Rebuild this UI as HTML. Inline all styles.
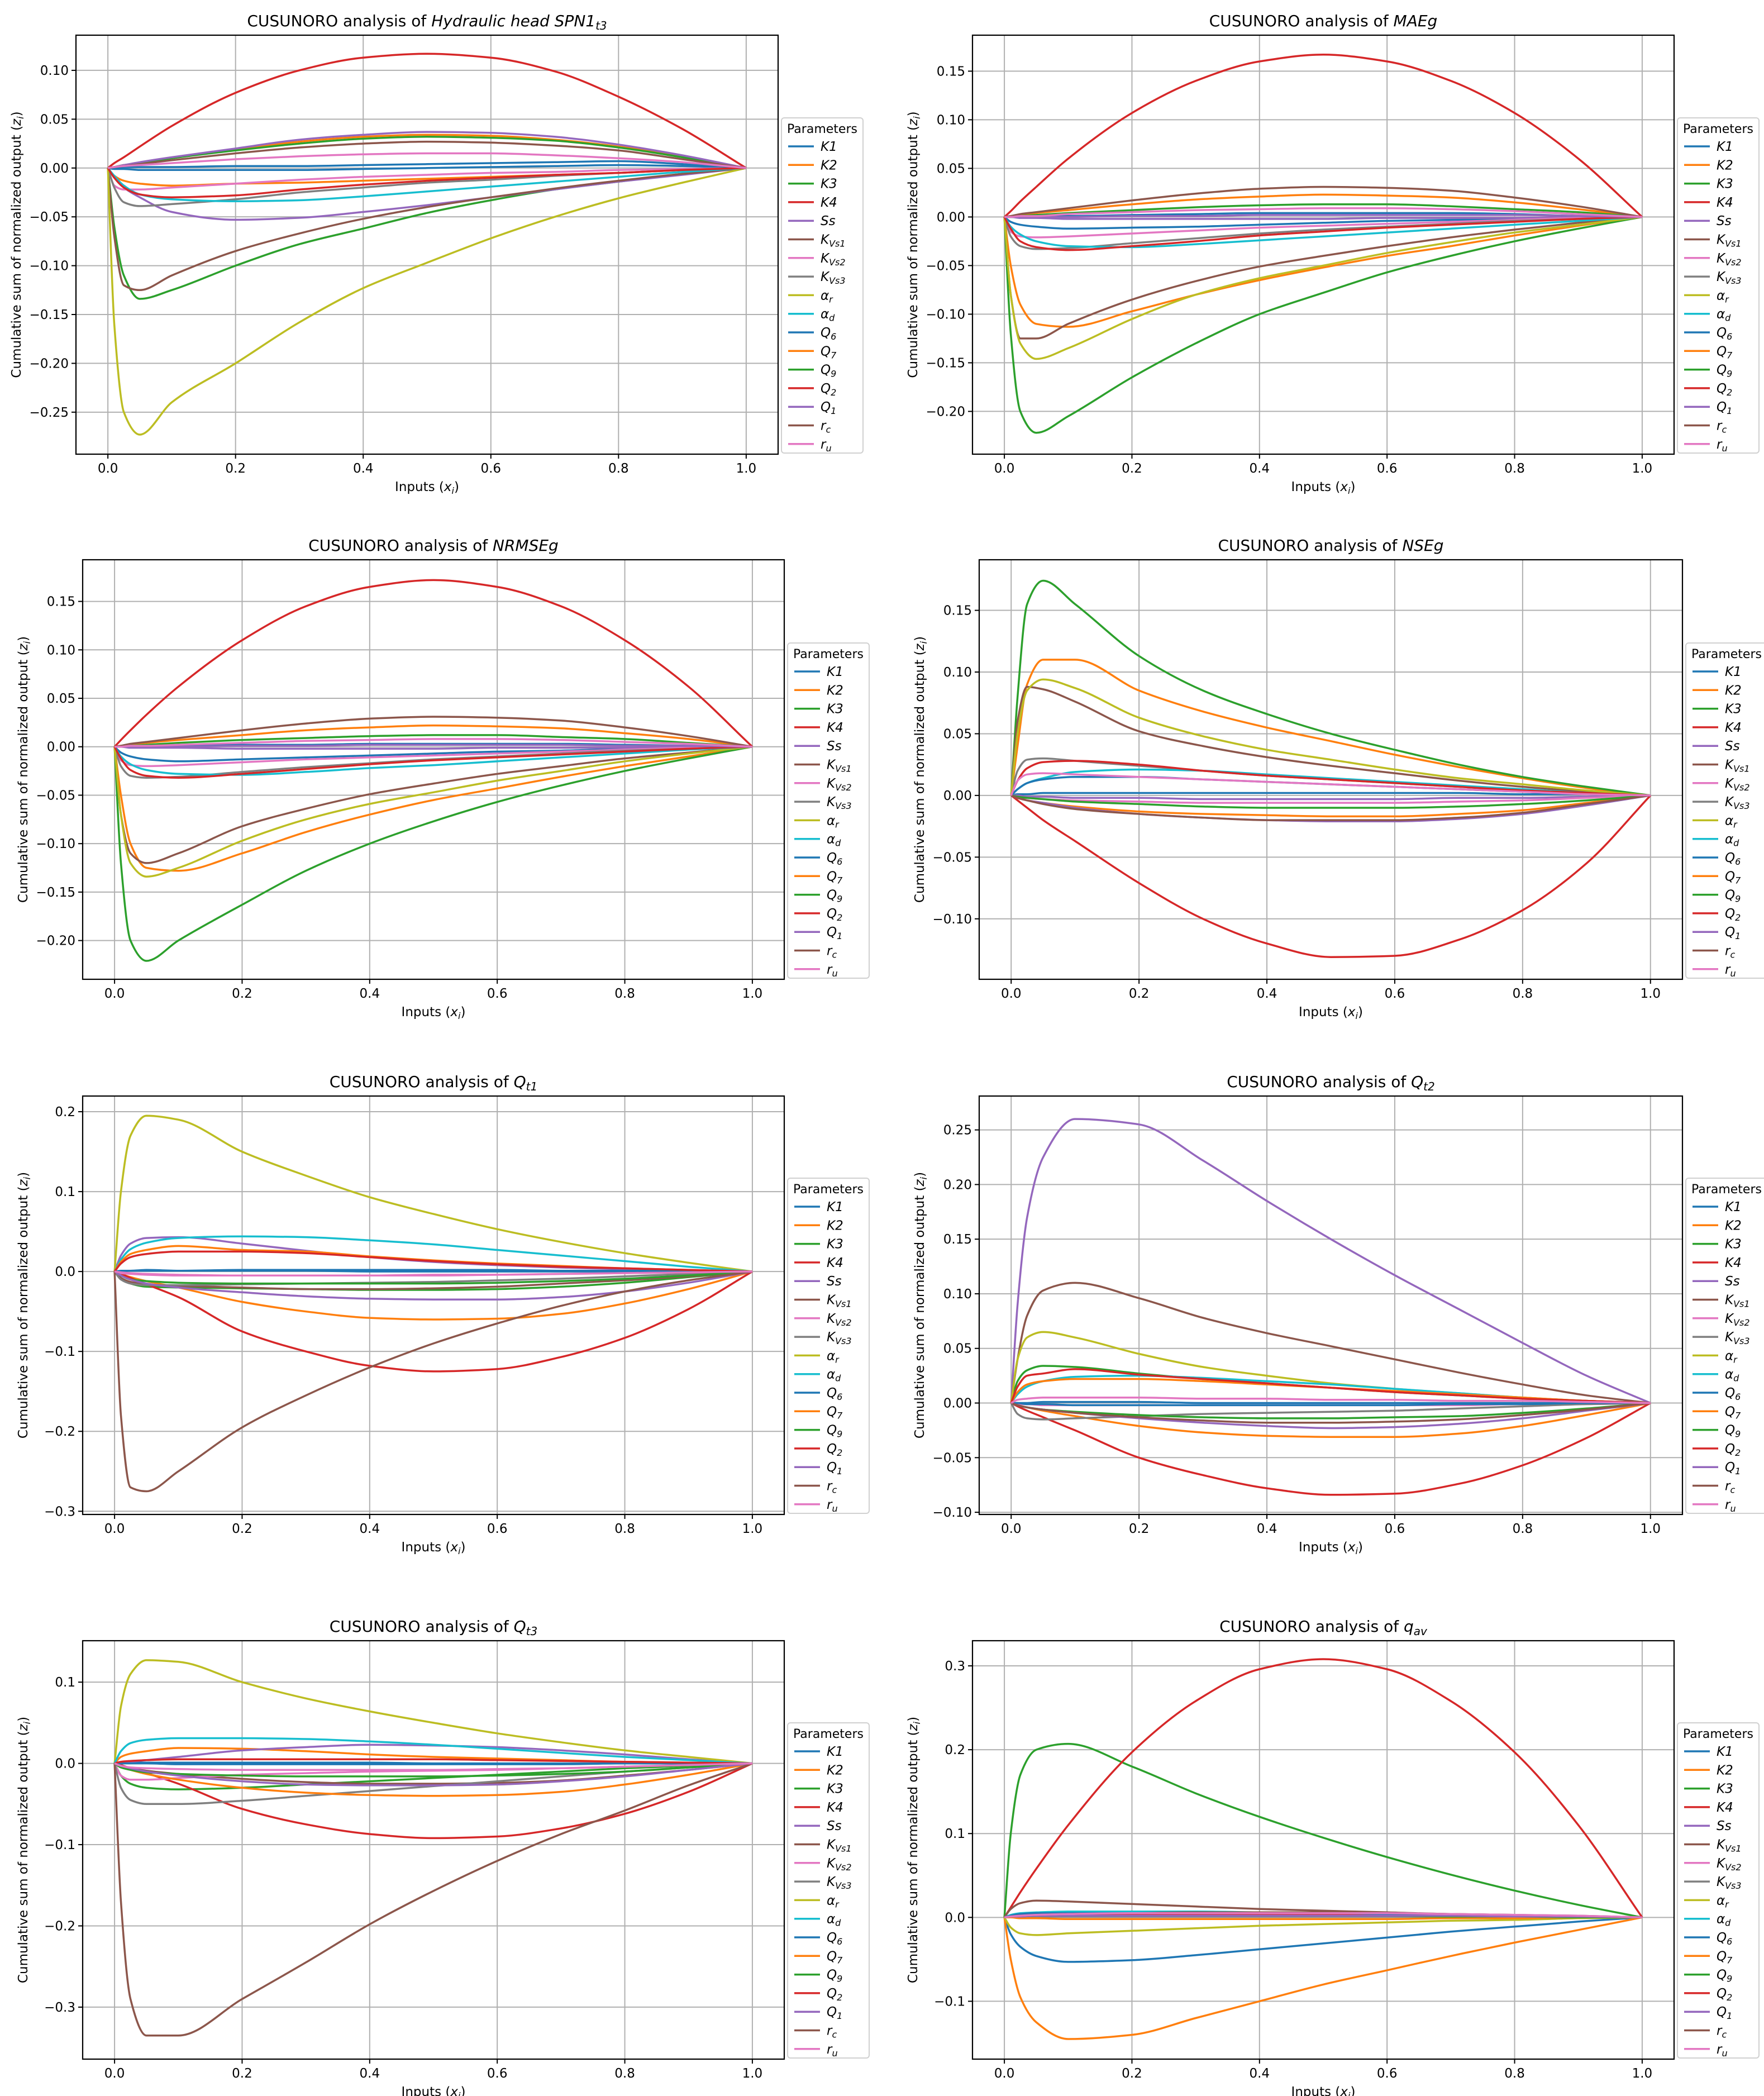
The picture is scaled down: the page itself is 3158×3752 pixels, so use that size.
<!DOCTYPE html>
<html><head><meta charset="utf-8"><title>CUSUNORO analyses</title>
<style>
html,body{margin:0;padding:0;background:#fff;}
svg{display:block;font-family:"DejaVu Sans","Liberation Sans",sans-serif;}
</style></head>
<body>
<svg id="fig" xmlns="http://www.w3.org/2000/svg" width="3158" height="3752" viewBox="0 0 3158 3752">
<rect x="0" y="0" width="3158" height="3752" fill="#fff"/>
</svg>
<script>
// ---------- shared data ----------
const X = [0,0.01,0.025,0.05,0.1,0.2,0.3,0.4,0.5,0.6,0.7,0.8,0.9,1];
const seriesNames = [["K1",""],["K2",""],["K3",""],["K4",""],["Ss",""],["K","Vs1"],["K","Vs2"],["K","Vs3"],["α","r"],["α","d"],["Q","6"],["Q","7"],["Q","9"],["Q","2"],["Q","1"],["r","c"],["r","u"]];
const seriesColors = ["#1f77b4","#ff7f0e","#2ca02c","#d62728","#9467bd","#8c564b","#e377c2","#7f7f7f","#bcbd22","#17becf","#1f77b4","#ff7f0e","#2ca02c","#d62728","#9467bd","#8c564b","#e377c2"];
const xTicks = [0,0.2,0.4,0.6,0.8,1.0];
const xTickLabels = ["0.0","0.2","0.4","0.6","0.8","1.0"];

// ---------- panel 1: Hydraulic head SPN1 t3 ----------
const hhTicks = [0.10,0.05,0,-0.05,-0.10,-0.15,-0.20,-0.25];
const hhTickLabels = ["0.10","0.05","0.00","−0.05","−0.10","−0.15","−0.20","−0.25"];
const hhValues = [
[0,-.001,-.001,-.002,-.002,-.002,-.002,-.001,0,.001,.002,.003,.002,0],
[0,-.008,-.013,-.016,-.018,-.016,-.015,-.013,-.011,-.009,-.007,-.005,-.002,0],
[0,-.06,-.11,-.134,-.125,-.1,-.078,-.062,-.046,-.033,-.022,-.014,-.006,0],
[0,.005,.011,.022,.043,.077,.1,.113,.117,.113,.099,.073,.04,0],
[0,-.01,-.02,-.03,-.045,-.053,-.051,-.045,-.038,-.03,-.022,-.014,-.007,0],
[0,-.07,-.12,-.125,-.11,-.085,-.067,-.052,-.04,-.03,-.021,-.013,-.006,0],
[0,-.018,-.022,-.022,-.02,-.016,-.012,-.009,-.007,-.005,-.004,-.002,-.001,0],
[0,-.02,-.035,-.039,-.037,-.032,-.025,-.02,-.015,-.012,-.008,-.005,-.002,0],
[0,-.16,-.25,-.273,-.24,-.2,-.158,-.123,-.097,-.072,-.05,-.031,-.015,0],
[0,-.008,-.018,-.027,-.032,-.034,-.033,-.029,-.024,-.019,-.014,-.009,-.004,0],
[0,0,.001,.001,.001,.002,.002,.003,.004,.005,.006,.007,.004,0],
[0,.001,.003,.005,.01,.019,.027,.032,.034,.033,.029,.022,.012,0],
[0,.001,.003,.005,.01,.018,.025,.03,.032,.031,.028,.021,.011,0],
[0,-.01,-.02,-.027,-.03,-.028,-.022,-.017,-.013,-.01,-.007,-.005,-.002,0],
[0,.001,.003,.006,.011,.02,.029,.034,.037,.036,.032,.024,.013,0],
[0,.001,.002,.004,.008,.015,.021,.025,.027,.026,.023,.018,.009,0],
[0,.001,.002,.003,.005,.009,.012,.014,.015,.015,.013,.01,.006,0]];

// ---------- panel 2: MAEg ----------
const maeTicks = [0.15,0.10,0.05,0,-0.05,-0.10,-0.15,-0.20];
const maeTickLabels = ["0.15","0.10","0.05","0.00","−0.05","−0.10","−0.15","−0.20"];
const maeValues = [
[0,-.005,-.008,-.01,-.012,-.011,-.01,-.008,-.006,-.004,-.003,-.002,-.001,0],
[0,-.05,-.09,-.11,-.113,-.097,-.08,-.065,-.052,-.04,-.03,-.019,-.009,0],
[0,-.12,-.2,-.222,-.205,-.165,-.13,-.1,-.078,-.057,-.04,-.025,-.012,0],
[0,.006,.016,.031,.06,.107,.14,.16,.167,.16,.14,.107,.06,0],
[0,0,-.001,-.001,-.002,-.002,-.002,-.002,-.002,-.001,-.001,-.001,0,0],
[0,-.08,-.125,-.125,-.11,-.085,-.066,-.051,-.04,-.03,-.021,-.013,-.006,0],
[0,-.015,-.02,-.021,-.02,-.017,-.014,-.011,-.009,-.007,-.005,-.003,-.001,0],
[0,-.02,-.03,-.033,-.032,-.027,-.022,-.017,-.013,-.01,-.007,-.004,-.002,0],
[0,-.08,-.13,-.146,-.135,-.105,-.08,-.063,-.05,-.037,-.026,-.016,-.008,0],
[0,-.01,-.018,-.025,-.03,-.031,-.028,-.024,-.02,-.016,-.012,-.008,-.004,0],
[0,0,0,.001,.001,.002,.003,.004,.004,.004,.004,.003,.001,0],
[0,.001,.002,.004,.007,.013,.018,.021,.023,.022,.02,.015,.008,0],
[0,0,.001,.002,.004,.007,.01,.012,.013,.013,.011,.008,.005,0],
[0,-.012,-.025,-.031,-.034,-.03,-.025,-.019,-.015,-.011,-.008,-.005,-.002,0],
[0,0,0,0,0,.001,.001,.002,.002,.002,.002,.002,.001,0],
[0,.001,.003,.005,.009,.017,.024,.029,.031,.03,.027,.02,.011,0],
[0,0,.001,.001,.003,.005,.007,.008,.009,.009,.008,.006,.003,0]];

// ---------- panel 3: NRMSEg ----------
const nrmTicks = [0.15,0.10,0.05,0,-0.05,-0.10,-0.15,-0.20];
const nrmTickLabels = ["0.15","0.10","0.05","0.00","−0.05","−0.10","−0.15","−0.20"];
const nrmValues = [
[0,-.006,-.01,-.013,-.015,-.013,-.011,-.009,-.007,-.005,-.004,-.002,-.001,0],
[0,-.05,-.1,-.125,-.128,-.11,-.088,-.07,-.055,-.043,-.031,-.02,-.01,0],
[0,-.12,-.2,-.221,-.2,-.163,-.128,-.1,-.077,-.057,-.04,-.025,-.012,0],
[0,.007,.017,.033,.062,.11,.145,.165,.172,.165,.145,.11,.062,0],
[0,0,-.001,-.001,-.001,-.002,-.002,-.002,-.002,-.001,-.001,-.001,0,0],
[0,-.07,-.11,-.12,-.11,-.082,-.064,-.049,-.038,-.028,-.02,-.012,-.006,0],
[0,-.014,-.019,-.02,-.019,-.016,-.013,-.011,-.009,-.007,-.005,-.003,-.001,0],
[0,-.02,-.03,-.032,-.031,-.026,-.021,-.017,-.013,-.01,-.007,-.004,-.002,0],
[0,-.07,-.12,-.134,-.125,-.097,-.075,-.059,-.047,-.035,-.025,-.015,-.007,0],
[0,-.01,-.018,-.024,-.028,-.029,-.026,-.022,-.019,-.015,-.011,-.007,-.003,0],
[0,0,0,.001,.001,.002,.002,.003,.003,.003,.003,.002,.001,0],
[0,.001,.002,.004,.007,.012,.017,.02,.022,.021,.019,.014,.008,0],
[0,0,.001,.002,.004,.007,.009,.011,.012,.012,.01,.008,.004,0],
[0,-.012,-.024,-.03,-.032,-.028,-.023,-.018,-.014,-.011,-.008,-.005,-.002,0],
[0,0,0,0,0,.001,.001,.002,.002,.002,.002,.001,.001,0],
[0,.001,.003,.005,.009,.017,.024,.029,.031,.03,.027,.02,.011,0],
[0,0,.001,.001,.002,.004,.006,.007,.008,.008,.007,.005,.003,0]];

// ---------- panel 4: NSEg ----------
const nseTicks = [0.15,0.10,0.05,0,-0.05,-0.10];
const nseTickLabels = ["0.15","0.10","0.05","0.00","−0.05","−0.10"];
const nseValues = [
[0,.001,.001,.002,.002,.002,.002,.002,.002,.002,.002,.001,.001,0],
[0,.04,.09,.11,.11,.085,.068,.055,.044,.033,.023,.014,.006,0],
[0,.08,.155,.174,.155,.113,.085,.066,.05,.037,.025,.015,.007,0],
[0,-.004,-.01,-.02,-.037,-.071,-.1,-.12,-.131,-.13,-.117,-.093,-.055,0],
[0,0,-.001,-.001,-.002,-.002,-.003,-.003,-.003,-.003,-.002,-.002,-.001,0],
[0,.06,.088,.086,.076,.052,.04,.031,.024,.018,.012,.007,.003,0],
[0,-.001,-.002,-.003,-.004,-.005,-.006,-.006,-.006,-.006,-.005,-.004,-.002,0],
[0,.02,.029,.03,.028,.024,.02,.016,.013,.01,.007,.004,.002,0],
[0,.05,.085,.094,.087,.063,.048,.037,.029,.021,.014,.009,.004,0],
[0,.005,.01,.014,.019,.021,.02,.017,.014,.011,.008,.005,.002,0],
[0,.005,.01,.013,.015,.015,.013,.011,.009,.007,.005,.003,.001,0],
[0,-.002,-.004,-.006,-.009,-.013,-.015,-.016,-.017,-.017,-.015,-.012,-.006,0],
[0,-.001,-.002,-.003,-.005,-.007,-.009,-.01,-.01,-.01,-.009,-.007,-.004,0],
[0,.012,.022,.027,.028,.025,.02,.016,.013,.01,.007,.004,.002,0],
[0,-.002,-.004,-.006,-.01,-.015,-.018,-.02,-.021,-.021,-.019,-.015,-.008,0],
[0,-.002,-.004,-.007,-.011,-.015,-.018,-.02,-.02,-.02,-.018,-.014,-.007,0],
[0,.012,.017,.018,.017,.015,.013,.011,.009,.007,.005,.003,.001,0]];

// ---------- panel 5: Q t1 ----------
const qt1Ticks = [0.2,0.1,0,-0.1,-0.2,-0.3];
const qt1TickLabels = ["0.2","0.1","0.0","−0.1","−0.2","−0.3"];
const qt1Values = [
[0,.001,.001,.002,.001,.001,.001,0,0,0,0,0,0,0],
[0,-.003,-.007,-.012,-.02,-.038,-.05,-.058,-.06,-.059,-.053,-.04,-.022,0],
[0,-.008,-.015,-.019,-.02,-.021,-.022,-.023,-.023,-.022,-.019,-.014,-.007,0],
[0,-.003,-.008,-.016,-.032,-.075,-.1,-.118,-.125,-.122,-.107,-.083,-.047,0],
[0,.02,.035,.042,.043,.035,.026,.018,.012,.008,.005,.003,.001,0],
[0,-.008,-.013,-.016,-.018,-.02,-.022,-.022,-.021,-.019,-.015,-.011,-.006,0],
[0,-.002,-.003,-.004,-.005,-.005,-.005,-.005,-.004,-.004,-.003,-.002,-.001,0],
[0,-.01,-.015,-.017,-.017,-.016,-.015,-.014,-.013,-.011,-.009,-.006,-.003,0],
[0,.1,.17,.195,.19,.15,.12,.093,.072,.053,.037,.023,.011,0],
[0,.015,.028,.036,.042,.044,.043,.039,.034,.027,.02,.013,.006,0],
[0,0,.001,.001,.001,.002,.002,.002,.002,.002,.001,.001,.001,0],
[0,.012,.022,.027,.032,.027,.025,.019,.014,.01,.007,.004,.002,0],
[0,-.005,-.01,-.012,-.014,-.015,-.015,-.015,-.015,-.014,-.012,-.009,-.005,0],
[0,.01,.018,.022,.025,.025,.023,.018,.013,.009,.006,.004,.002,0],
[0,-.005,-.01,-.015,-.02,-.026,-.031,-.034,-.035,-.035,-.032,-.025,-.014,0],
[0,-.18,-.27,-.275,-.25,-.195,-.155,-.12,-.09,-.065,-.043,-.025,-.011,0],
[0,-.001,-.002,-.003,-.004,-.005,-.005,-.005,-.005,-.004,-.003,-.002,-.001,0]];

// ---------- panel 6: Q t2 ----------
const qt2Ticks = [0.25,0.20,0.15,0.10,0.05,0,-0.05,-0.10];
const qt2TickLabels = ["0.25","0.20","0.15","0.10","0.05","0.00","−0.05","−0.10"];
const qt2Values = [
[0,0,0,.001,.001,.001,0,0,0,0,0,0,0,0],
[0,-.002,-.004,-.007,-.012,-.021,-.027,-.03,-.031,-.031,-.028,-.021,-.011,0],
[0,.02,.03,.034,.033,.027,.022,.018,.014,.01,.007,.004,.002,0],
[0,-.003,-.007,-.013,-.025,-.05,-.066,-.078,-.084,-.083,-.074,-.057,-.032,0],
[0,.09,.17,.225,.26,.255,.222,.185,.15,.117,.086,.055,.025,0],
[0,.04,.08,.103,.11,.096,.078,.064,.052,.04,.028,.017,.007,0],
[0,-.001,-.001,-.002,-.002,-.002,-.002,-.002,-.002,-.002,-.002,-.001,-.001,0],
[0,-.01,-.014,-.015,-.014,-.012,-.01,-.009,-.008,-.007,-.005,-.003,-.001,0],
[0,.04,.06,.065,.06,.045,.033,.025,.018,.013,.009,.005,.002,0],
[0,.008,.015,.02,.024,.025,.023,.02,.017,.013,.009,.005,.002,0],
[0,0,-.001,-.001,-.002,-.002,-.002,-.002,-.002,-.002,-.001,-.001,0,0],
[0,.01,.017,.02,.022,.022,.02,.017,.014,.011,.008,.005,.002,0],
[0,-.002,-.004,-.006,-.008,-.011,-.013,-.014,-.014,-.013,-.012,-.009,-.005,0],
[0,.015,.025,.027,.031,.026,.022,.018,.014,.01,.007,.004,.002,0],
[0,-.002,-.004,-.006,-.009,-.014,-.018,-.021,-.023,-.022,-.019,-.014,-.007,0],
[0,-.002,-.004,-.006,-.009,-.013,-.016,-.018,-.018,-.017,-.015,-.011,-.006,0],
[0,.003,.004,.005,.005,.005,.004,.004,.003,.003,.002,.002,.001,0]];

// ---------- panel 7: Q t3 ----------
const qt3Ticks = [0.1,0,-0.1,-0.2,-0.3];
const qt3TickLabels = ["0.1","0.0","−0.1","−0.2","−0.3"];
const qt3Values = [
[0,0,.001,.001,.001,.001,.001,.001,0,0,0,0,0,0],
[0,.008,.012,.015,.019,.018,.015,.011,.008,.006,.004,.002,.001,0],
[0,-.015,-.025,-.03,-.032,-.03,-.026,-.022,-.018,-.014,-.01,-.006,-.003,0],
[0,-.002,-.006,-.012,-.025,-.056,-.075,-.087,-.092,-.09,-.08,-.062,-.035,0],
[0,.001,.002,.004,.008,.016,.02,.023,.022,.02,.016,.011,.005,0],
[0,-.003,-.006,-.009,-.013,-.019,-.023,-.025,-.025,-.024,-.021,-.015,-.008,0],
[0,-.015,-.02,-.02,-.018,-.014,-.012,-.01,-.009,-.008,-.006,-.004,-.002,0],
[0,-.03,-.045,-.05,-.05,-.046,-.04,-.034,-.028,-.022,-.016,-.01,-.005,0],
[0,.07,.11,.127,.125,.1,.08,.064,.05,.037,.026,.016,.008,0],
[0,.015,.025,.029,.031,.031,.03,.027,.023,.018,.013,.008,.004,0],
[0,0,0,0,-.001,-.001,-.001,-.001,-.001,-.001,-.001,0,0,0],
[0,-.004,-.008,-.013,-.02,-.03,-.036,-.039,-.04,-.039,-.035,-.026,-.014,0],
[0,-.005,-.008,-.011,-.013,-.015,-.016,-.016,-.016,-.015,-.013,-.01,-.005,0],
[0,.002,.003,.004,.005,.005,.005,.005,.005,.004,.003,.002,.001,0],
[0,-.003,-.006,-.01,-.015,-.022,-.026,-.027,-.027,-.026,-.022,-.016,-.008,0],
[0,-.17,-.29,-.335,-.335,-.29,-.245,-.198,-.157,-.12,-.087,-.058,-.027,0],
[0,-.003,-.005,-.006,-.007,-.008,-.008,-.008,-.008,-.007,-.006,-.004,-.002,0]];

// ---------- panel 8: q av ----------
const qavTicks = [0.3,0.2,0.1,0,-0.1];
const qavTickLabels = ["0.3","0.2","0.1","0.0","−0.1"];
const qavValues = [
[0,-.02,-.035,-.046,-.053,-.051,-.045,-.038,-.031,-.024,-.017,-.011,-.005,0],
[0,-.05,-.095,-.125,-.145,-.14,-.12,-.1,-.08,-.063,-.046,-.03,-.015,0],
[0,.1,.17,.2,.207,.18,.148,.12,.095,.072,.051,.032,.015,0],
[0,.012,.03,.058,.11,.197,.258,.296,.308,.296,.258,.197,.11,0],
[0,.001,.002,.003,.004,.004,.004,.004,.003,.003,.002,.001,.001,0],
[0,.01,.017,.02,.019,.016,.013,.01,.008,.006,.004,.003,.001,0],
[0,.001,.002,.003,.003,.003,.003,.003,.003,.002,.002,.001,.001,0],
[0,0,.001,.001,.001,.001,.001,.001,.001,.001,.001,0,0,0],
[0,-.012,-.019,-.021,-.019,-.016,-.013,-.01,-.008,-.006,-.004,-.003,-.001,0],
[0,.003,.005,.006,.007,.007,.007,.006,.005,.004,.003,.002,.001,0],
[0,.002,.004,.005,.005,.005,.005,.004,.004,.003,.002,.002,.001,0],
[0,0,-.001,-.001,-.002,-.002,-.002,-.002,-.002,-.002,-.001,-.001,0,0],
[0,.001,.001,.002,.002,.002,.002,.002,.002,.002,.001,.001,0,0],
[0,.001,.002,.002,.003,.003,.003,.003,.003,.002,.002,.001,.001,0],
[0,.001,.001,.002,.002,.002,.002,.002,.002,.002,.002,.001,.001,0],
[0,.001,.002,.003,.004,.005,.006,.006,.006,.005,.004,.003,.002,0],
[0,.001,.002,.003,.004,.005,.005,.005,.005,.005,.004,.003,.002,0]];

// ---------- layout (geometry only) ----------
const panels = [
 {id:"hydraulic-head", t:"Hydraulic head SPN1", ts:"t3", vals:hhValues, ticks:hhTicks, labels:hhTickLabels, L:136,R:1393,T:63,B:813, y0:-0.293,y1:0.136},
 {id:"maeg", t:"MAEg", ts:"", vals:maeValues, ticks:maeTicks, labels:maeTickLabels, L:1741,R:2997,T:63,B:813, y0:-0.244,y1:0.187},
 {id:"nrmseg", t:"NRMSEg", ts:"", vals:nrmValues, ticks:nrmTicks, labels:nrmTickLabels, L:148,R:1404,T:1002,B:1753, y0:-0.240,y1:0.193},
 {id:"nseg", t:"NSEg", ts:"", vals:nseValues, ticks:nseTicks, labels:nseTickLabels, L:1753,R:3012,T:1002,B:1753, y0:-0.149,y1:0.191},
 {id:"qt1", t:"Q", ts:"t1", vals:qt1Values, ticks:qt1Ticks, labels:qt1TickLabels, L:148,R:1404,T:1962,B:2711, y0:-0.304,y1:0.2196},
 {id:"qt2", t:"Q", ts:"t2", vals:qt2Values, ticks:qt2Ticks, labels:qt2TickLabels, L:1753,R:3012,T:1962,B:2711, y0:-0.102,y1:0.281},
 {id:"qt3", t:"Q", ts:"t3", vals:qt3Values, ticks:qt3Ticks, labels:qt3TickLabels, L:148,R:1404,T:2937,B:3686, y0:-0.364,y1:0.151},
 {id:"qav", t:"q", ts:"av", vals:qavValues, ticks:qavTicks, labels:qavTickLabels, L:1741,R:2997,T:2937,B:3686, y0:-0.169,y1:0.33}
];

const NS = "http://www.w3.org/2000/svg";
const svg = document.getElementById("fig");
function mk(tag, attrs, parent){
  const e = document.createElementNS(NS, tag);
  for (const k in attrs) e.setAttribute(k, attrs[k]);
  (parent||svg).appendChild(e);
  return e;
}
function monotonePath(pts){
  const n = pts.length, d = [], h = [], m = [];
  for (let i=0;i<n-1;i++){ h.push(pts[i+1][0]-pts[i][0]); d.push((pts[i+1][1]-pts[i][1])/h[i]); }
  m[0]=d[0]; m[n-1]=d[n-2];
  for (let i=1;i<n-1;i++){
    if (d[i-1]*d[i] <= 0) m[i]=0;
    else { const h0=h[i-1],h1=h[i]; m[i]=3*(h0+h1)/((2*h1+h0)/d[i-1]+(h1+2*h0)/d[i]); }
  }
  let s = "M"+pts[0][0].toFixed(1)+","+pts[0][1].toFixed(1);
  for (let i=0;i<n-1;i++){
    const a=pts[i], b=pts[i+1], hh=h[i]/3;
    s += " C"+(a[0]+hh).toFixed(1)+","+(a[1]+m[i]*hh).toFixed(1)+" "+(b[0]-hh).toFixed(1)+","+(b[1]-m[i+1]*hh).toFixed(1)+" "+b[0].toFixed(1)+","+b[1].toFixed(1);
  }
  return s;
}

panels.forEach(p => {
  const g = mk("g", {});
  
  
  const xs = v => p.L + (v + 0.05) / 1.1 * (p.R - p.L);
  const ys = v => p.T + (p.y1 - v) / (p.y1 - p.y0) * (p.B - p.T);
  const cx = (p.L + p.R) / 2;

  const title = mk("text", {x:cx, y:p.T-16, "text-anchor":"middle", "font-size":28, fill:"#000"}, g);
  
  
  const t1 = mk("tspan", {}, title); t1.textContent = "CUSUNORO analysis of ";
  const t2 = mk("tspan", {"font-style":"italic"}, title); t2.textContent = p.t;
  if (p.ts){ const t3 = mk("tspan", {"font-style":"italic","font-size":20,dy:6}, title); t3.textContent = p.ts; }

  const grid = mk("g", {stroke:"#b0b0b0","stroke-width":2}, g);
  
  
  xTicks.forEach(v => mk("line", {x1:xs(v), x2:xs(v), y1:p.T, y2:p.B}, grid));
  p.ticks.forEach(v => mk("line", {x1:p.L, x2:p.R, y1:ys(v), y2:ys(v)}, grid));

  const lines = mk("g", {fill:"none","stroke-width":3.5,"stroke-linejoin":"round"}, g);
  
  
  p.vals.forEach((vals, i) => {
    const pts = X.map((x, k) => [xs(x), ys(vals[k])]);
    const path = mk("path", {d:monotonePath(pts), stroke:seriesColors[i]}, lines);
    
    
  });

  const frame = mk("rect", {x:p.L, y:p.T, width:p.R-p.L, height:p.B-p.T, fill:"none", stroke:"#000", "stroke-width":2.2}, g);
  
  

  const xa = mk("g", {}, g);
  
  
  xTicks.forEach((v, i) => {
    mk("line", {x1:xs(v), x2:xs(v), y1:p.B, y2:p.B+8, stroke:"#000","stroke-width":2}, xa);
    const t = mk("text", {x:xs(v), y:p.B+33, "text-anchor":"middle","font-size":23}, xa);
    t.textContent = xTickLabels[i];
  });
  const xl = mk("text", {x:cx, y:p.B+66, "text-anchor":"middle","font-size":23}, g);
  
  
  const xl1 = mk("tspan", {}, xl); xl1.textContent = "Inputs (";
  const xl2 = mk("tspan", {"font-style":"italic"}, xl); xl2.textContent = "x";
  const xl3 = mk("tspan", {"font-style":"italic","font-size":16,dy:5}, xl); xl3.textContent = "i";
  const xl4 = mk("tspan", {dy:-5}, xl); xl4.textContent = ")";

  const ya = mk("g", {}, g);
  
  
  p.ticks.forEach((v, i) => {
    mk("line", {x1:p.L-8, x2:p.L, y1:ys(v), y2:ys(v), stroke:"#000","stroke-width":2}, ya);
    const t = mk("text", {x:p.L-13, y:ys(v)+8, "text-anchor":"end","font-size":23}, ya);
    t.textContent = p.labels[i];
  });
  const yl = mk("text", {x:0, y:0, "text-anchor":"middle","font-size":23, transform:"translate("+(p.L-99)+","+((p.T+p.B)/2)+") rotate(-90)"}, g);
  
  
  const yl1 = mk("tspan", {}, yl); yl1.textContent = "Cumulative sum of normalized output (";
  const yl2 = mk("tspan", {"font-style":"italic"}, yl); yl2.textContent = "z";
  const yl3 = mk("tspan", {"font-style":"italic","font-size":16,dy:5}, yl); yl3.textContent = "i";
  const yl4 = mk("tspan", {dy:-5}, yl); yl4.textContent = ")";

  const lx = p.R + 6, lb = p.B - 2, lt = lb - 600;
  const lg = mk("g", {}, g);
  
  
  mk("rect", {x:lx, y:lt, width:146, height:lb-lt, rx:5, fill:"#fff","fill-opacity":0.8, stroke:"#d0d0d0","stroke-width":2}, lg);
  const lt1 = mk("text", {x:lx+73, y:lt+27, "text-anchor":"middle","font-size":22}, lg);
  lt1.textContent = "Parameters";
  seriesNames.forEach((nm, i) => {
    const yy = lt + 51 + i * 33.3;
    const e = mk("g", {}, lg);
    
    
    mk("line", {x1:lx+12, x2:lx+58, y1:yy, y2:yy, stroke:seriesColors[i], "stroke-width":3.5}, e);
    const t = mk("text", {x:lx+70, y:yy+8, "font-size":23, "font-style":"italic"}, e);
    const a = mk("tspan", {}, t); a.textContent = nm[0];
    if (nm[1]) { const b = mk("tspan", {"font-size":16, dy:5}, t); b.textContent = nm[1]; }
  });
});
</script>
</body></html>
